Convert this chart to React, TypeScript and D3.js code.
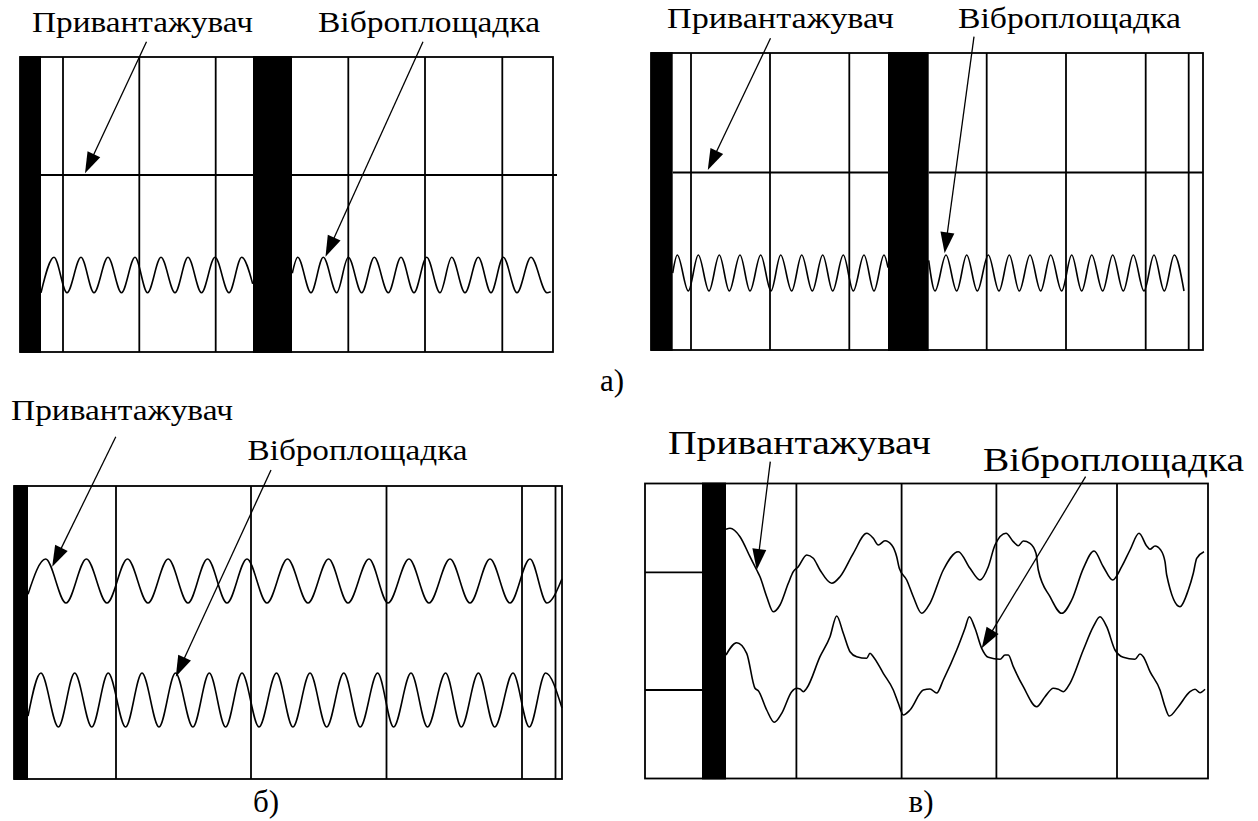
import React from 'react';
import * as d3 from 'd3';

type Seg = [number, number];
type Pt = [number, number];

// ---------------- а) left oscillogram ----------------
const A1_BARS: Seg[] = [[0, 21], [233, 272]];
const A1_MARKS: number[] = [43, 119.3, 195.7, 328.3, 405, 482.3];
const A1_LOAD: Seg[] = [[21, 233], [272, 537]];
const A1_VIB_1: Pt[] = [[21, -1], [34, 1], [47, -1], [61, 1], [74, -1], [88, 1], [101.5, -1], [115, 1], [127.5, -1], [141, 1], [155, -1], [168, 1], [181.5, -1], [195, 1], [209, -1], [221.7, 1], [232.7, -0.5]];
const A1_VIB_2: Pt[] = [[272.3, 0.1], [277.7, 1], [291, -1], [303.3, 1], [316.7, -1], [328.3, 1], [341.7, -1], [354.3, 1], [368.3, -1], [381, 1], [394, -1], [406.7, 1], [420, -1], [431.7, 1], [445, -1], [458.3, 1], [471, -1], [483.3, 1], [497, -1], [511, 1], [527, -1], [530.7, -0.95]];

// ---------------- а) right oscillogram ----------------
const A2_BARS: Seg[] = [[0, 21.7], [237, 277.7]];
const A2_MARKS: number[] = [40, 119, 198.3, 335.7, 415, 494.7, 537.7];
const A2_LOAD: Seg[] = [[21.7, 237], [277.7, 552]];
const A2_VIB_1: Pt[] = [[21.7, 0], [26.3, 1], [37.3, -1], [47.3, 1], [58, -1], [68.3, 1], [78.3, -1], [89, 1], [99, -1], [109.7, 1], [120, -1], [129.7, 1], [140.7, -1], [150.7, 1], [161.3, -1], [171.7, 1], [181.7, -1], [192.3, 1], [202.3, -1], [213, 1], [223, -1], [233, 1], [237, 0.3]];
const A2_VIB_2: Pt[] = [[277.7, 0.7], [284, -1], [295, 1], [305.7, -1], [315.7, 1], [326.3, -1], [337.3, 1], [348, -1], [358.3, 1], [368.3, -1], [379, 1], [389.7, -1], [399.7, 1], [410.7, -1], [420.7, 1], [430.7, -1], [440.7, 1], [451.7, -1], [461.7, 1], [472.3, -1], [482.3, 1], [493, -1], [503, 1], [513.3, -1], [523.3, 1], [533, -1]];

// ---------------- б) ----------------
const B_BARS: Seg[] = [[0, 14]];
const B_MARKS: number[] = [102, 237, 372.5, 508, 541.5];
const B_LOAD: Pt[] = [[14, -0.6], [31.6, 1], [52, -1], [72.4, 1], [93, -1], [113.5, 1], [134, -1], [154.2, 1], [174, -1], [193.5, 1], [213, -1], [233, 1], [253, -1], [273.5, 1], [294, -1], [314.6, 1], [334, -1], [355, 1], [374, -1], [395, 1], [415, -1], [436, 1], [456, -1], [476, 1], [496, -1], [516, 1], [533, -1], [548, 0.1]];
const B_VIB: Pt[] = [[14, -0.6], [26.9, 1], [44.4, -1], [60.7, 1], [77.8, -1], [94.2, 1], [111.6, -1], [128, 1], [145, -1], [161.5, 1], [178.9, -1], [195.3, 1], [211.6, -1], [228, 1], [245, -1], [262.5, 1], [278.9, -1], [296, 1], [312.7, -1], [329.8, 1], [346.2, -1], [363.6, 1], [379.6, -1], [397, 1], [413.5, -1], [431.6, 1], [447.3, -1], [464.4, 1], [480.7, -1], [499, 1], [515.3, -1], [531.6, 1], [548, -0.3]];

// ---------------- в) ----------------
const C_BARS: Seg[] = [[57, 81]];
const C_MARKS: number[] = [151.4, 256.6, 351.4, 472];
const C_ZERO: Seg[] = [[0, 57]];
const C_LOAD: Pt[] = [[81, 42.7], [85, 43.7], [95, 35.3], [105, 15.3], [111.7, 2], [115, -4.7], [121.7, -24.7], [128.3, -39.7], [135, -33], [143.3, -11.3], [148.3, 0.3], [153.3, 5.3], [161.7, 17], [168.3, 13.7], [175, 2], [186.7, -11.3], [195, -4.7], [208.3, 18.7], [221.7, 38.7], [228.3, 33.7], [233.3, 27], [240, 31.3], [246.7, 27], [251.7, 15.3], [254.3, 3.7], [261.7, -8], [268.3, -24.7], [276.7, -41.3], [285, -31.3], [298.3, 2], [313.3, 20.3], [325, 3.7], [335, -8], [343.3, 5.3], [350, 27], [361, 38.7], [368.3, 30.3], [373.3, 26.3], [378.3, 31], [385, 28.7], [391, 18.7], [393.3, 2], [405, -24.7], [416.7, -41.3], [426.7, -28], [438.3, 3.7], [449, 21], [458.3, 5.3], [467.7, -8], [476.7, 5.3], [485, 22], [494, 38.7], [501.7, 26], [505, 22.7], [510, 26], [515.7, 22], [520, 10.3], [521.7, -3], [535, -34.7], [543.3, -18], [548.3, -1.3], [551.7, 13.7], [559, 20.3]];
const C_VIB: Pt[] = [[81, 35], [91.7, 47.3], [101.7, 36.7], [110, 1.7], [113.3, -0.7], [121.7, -20], [129.3, -32.3], [136.7, -23.3], [146.7, -1.7], [151.7, 1.7], [155, 1], [158.3, -1.7], [161.7, 1.7], [175, 33.3], [185, 53.3], [191.7, 74], [198.3, 56.7], [205, 38.3], [211.7, 33.3], [221.7, 31.7], [225, 36.7], [228.3, 33.3], [238.3, 16.7], [248.3, 0], [253.3, -13.3], [258.3, -25], [265, -20], [278.3, 0], [285, 1], [291.7, -3], [298.3, 10], [311.7, 40], [320, 61.7], [324.3, 73.3], [330, 61.7], [336.7, 41.7], [343.3, 32.7], [355, 30.7], [360, 35], [363.3, 35], [368.3, 23.3], [378.3, 3.3], [391.7, -16.7], [400, -6.7], [408.3, 1.7], [413.3, 0.7], [418.3, -1.7], [425, 6.7], [438.3, 40], [448.3, 63.3], [455, 73.3], [461.7, 63.3], [470, 40], [478.3, 32.7], [490, 30.7], [495, 36], [498.3, 33.3], [505, 18.3], [515, 0], [520, -16.7], [524.3, -26], [533.3, -16.7], [545, -1.7], [550, 0.7], [555, -2.7], [560, 0.7]];

// labels
const LOAD_LABEL = 'Привантажувач';
const VIB_LABEL = 'Віброплощадка';
const PANEL_LABELS = ['а)', 'б)', 'в)'];

// ---------------- layout ----------------
type Box = { x0: number; x1: number; y0: number; y1: number };
const BOX_A1: Box = { x0: 20, x1: 553, y0: 57, y1: 352 };
const BOX_A2: Box = { x0: 651, x1: 1203, y0: 53, y1: 350 };
const BOX_B: Box = { x0: 14, x1: 562, y0: 486, y1: 779 };
const BOX_C: Box = { x0: 645, x1: 1208, y0: 483.5, y1: 778.5 };

const FONT = 'Liberation Serif, Times New Roman, serif';
const LW_BOX = 1.8;
const LW_TRACE = 1.6;

function xs(b: Box) {
  return d3.scaleLinear().domain([0, b.x1 - b.x0]).range([b.x0, b.x1]);
}
function ysRel(b: Box) {
  return d3.scaleLinear().domain([0, b.y1 - b.y0]).range([b.y0, b.y1]);
}
function yTrace(center: number, amp: number, unit = 1) {
  return d3.scaleLinear().domain([-unit, unit]).range([center + amp, center - amp]);
}

function Trace({ pts, x, y }: { pts: Pt[]; x: d3.ScaleLinear<number, number>; y: d3.ScaleLinear<number, number> }) {
  const line = d3.line<Pt>().x(d => x(d[0])).y(d => y(d[1])).curve(d3.curveMonotoneX);
  return <path d={line(pts) || ''} fill="none" stroke="#000" strokeWidth={LW_TRACE} strokeLinejoin="round" />;
}

function Arrow({ from, to, x, y }: { from: Pt; to: Pt; x: d3.ScaleLinear<number, number>; y: d3.ScaleLinear<number, number> }) {
  const x0 = x(from[0]), y0 = y(from[1]), x1 = x(to[0]), y1 = y(to[1]);
  const dx = x1 - x0, dy = y1 - y0;
  const L = Math.hypot(dx, dy);
  const ux = dx / L, uy = dy / L;
  const hl = 21, hw = 7;
  const bx = x1 - ux * hl, by = y1 - uy * hl;
  const pts = [[x1, y1], [bx - uy * hw, by + ux * hw], [bx + uy * hw, by - ux * hw]];
  return (
    <g>
      <line x1={x0} y1={y0} x2={bx + ux * 2} y2={by + uy * 2} stroke="#000" strokeWidth={1.3} />
      <polygon points={pts.map(p => p.join(',')).join(' ')} fill="#000" />
    </g>
  );
}

function Label({ text, x, y, w, size = 30 }: { text: string; x: number; y: number; w: number; size?: number }) {
  return (
    <text x={x} y={y} style={{ fontFamily: FONT }} fontSize={size} textLength={w} lengthAdjust="spacingAndGlyphs" fill="#000">
      {text}
    </text>
  );
}

function Frame({ b, marks, bars, x }: { b: Box; marks: number[]; bars: Seg[]; x: d3.ScaleLinear<number, number> }) {
  return (
    <g>
      {marks.map((m, i) => (
        <line key={'m' + i} x1={x(m)} x2={x(m)} y1={b.y0} y2={b.y1} stroke="#000" strokeWidth={LW_BOX} />
      ))}
      <rect x={b.x0} y={b.y0} width={b.x1 - b.x0} height={b.y1 - b.y0} fill="none" stroke="#000" strokeWidth={LW_BOX} />
      {bars.map((s, i) => (
        <rect key={'b' + i} x={x(s[0])} y={b.y0 - 0.9} width={x(s[1]) - x(s[0])} height={b.y1 - b.y0 + 1.8} fill="#000" />
      ))}
    </g>
  );
}

function FlatTrace({ segs, x, yv }: { segs: Seg[]; x: d3.ScaleLinear<number, number>; yv: number }) {
  return (
    <g>
      {segs.map((s, i) => (
        <line key={i} x1={x(s[0])} x2={x(s[1])} y1={yv} y2={yv} stroke="#000" strokeWidth={LW_BOX} />
      ))}
    </g>
  );
}

export default function App() {
  const xA1 = xs(BOX_A1), yA1 = ysRel(BOX_A1);
  const yA1load = 175;
  const yA1vib = yTrace(275, 17.7);
  const xA2 = xs(BOX_A2), yA2 = ysRel(BOX_A2);
  const yA2load = 172.5;
  const yA2vib = yTrace(273, 18);
  const xB = xs(BOX_B), yB = ysRel(BOX_B);
  const yBload = yTrace(581, 22);
  const yBvib = yTrace(700, 27);
  const xC = xs(BOX_C), yC = ysRel(BOX_C);
  const yCload = yTrace(572, 50, 50);
  const yCvib = yTrace(690, 50, 50);

  return (
    <div style={{ position: 'absolute', left: 0, top: 0, width: 1258, height: 821, background: '#fff' }}>
      <svg width={1258} height={821} viewBox="0 0 1258 821" style={{ display: 'block' }}>
        <rect x={0} y={0} width={1258} height={821} fill="#fff" />

        {/* а) left */}
        <Frame b={BOX_A1} marks={A1_MARKS} bars={A1_BARS} x={xA1} />
        <FlatTrace segs={A1_LOAD} x={xA1} yv={yA1load} />
        <Trace pts={A1_VIB_1} x={xA1} y={yA1vib} />
        <Trace pts={A1_VIB_2} x={xA1} y={yA1vib} />
        <Label text={LOAD_LABEL} x={32} y={32} w={221} />
        <Label text={VIB_LABEL} x={318} y={32} w={222} />
        <Arrow from={[126.5, -15.3]} to={[65, 116.3]} x={xA1} y={yA1} />
        <Arrow from={[403, -15.3]} to={[305.5, 199.7]} x={xA1} y={yA1} />

        {/* а) right */}
        <Frame b={BOX_A2} marks={A2_MARKS} bars={A2_BARS} x={xA2} />
        <FlatTrace segs={A2_LOAD} x={xA2} yv={yA2load} />
        <Trace pts={A2_VIB_1} x={xA2} y={yA2vib} />
        <Trace pts={A2_VIB_2} x={xA2} y={yA2vib} />
        <Label text={LOAD_LABEL} x={667} y={28} w={227} />
        <Label text={VIB_LABEL} x={958} y={28} w={223} />
        <Arrow from={[119.5, -14.7]} to={[56.8, 117]} x={xA2} y={yA2} />
        <Arrow from={[323, -16.3]} to={[293.6, 200.3]} x={xA2} y={yA2} />

        <text x={612} y={391} style={{ fontFamily: FONT }} fontSize={31} textAnchor="middle">{PANEL_LABELS[0]}</text>

        {/* б) */}
        <Frame b={BOX_B} marks={B_MARKS} bars={B_BARS} x={xB} />
        <Trace pts={B_LOAD} x={xB} y={yBload} />
        <Trace pts={B_VIB} x={xB} y={yBvib} />
        <Label text={LOAD_LABEL} x={11} y={420} w={222} />
        <Label text={VIB_LABEL} x={247.5} y={460} w={220} />
        <Arrow from={[101.8, -49.3]} to={[38.2, 80.7]} x={xB} y={yB} />
        <Arrow from={[257, -16]} to={[161.8, 190.7]} x={xB} y={yB} />
        <text x={266} y={812} style={{ fontFamily: FONT }} fontSize={31} textAnchor="middle">{PANEL_LABELS[1]}</text>

        {/* в) */}
        <Frame b={BOX_C} marks={C_MARKS} bars={C_BARS} x={xC} />
        <FlatTrace segs={C_ZERO} x={xC} yv={572.3} />
        <FlatTrace segs={C_ZERO} x={xC} yv={690} />
        <Trace pts={C_LOAD} x={xC} y={yCload} />
        <Trace pts={C_VIB} x={xC} y={yCvib} />
        <Label text={LOAD_LABEL} x={668} y={454} w={263} size={33} />
        <Label text={VIB_LABEL} x={983} y={471} w={261} size={33} />
        <Arrow from={[125.3, -21.8]} to={[111.7, 86.5]} x={xC} y={yC} />
        <Arrow from={[440.6, -6.8]} to={[336.7, 164.8]} x={xC} y={yC} />
        <text x={921} y={812} style={{ fontFamily: FONT }} fontSize={31} textAnchor="middle">{PANEL_LABELS[2]}</text>
      </svg>
    </div>
  );
}
